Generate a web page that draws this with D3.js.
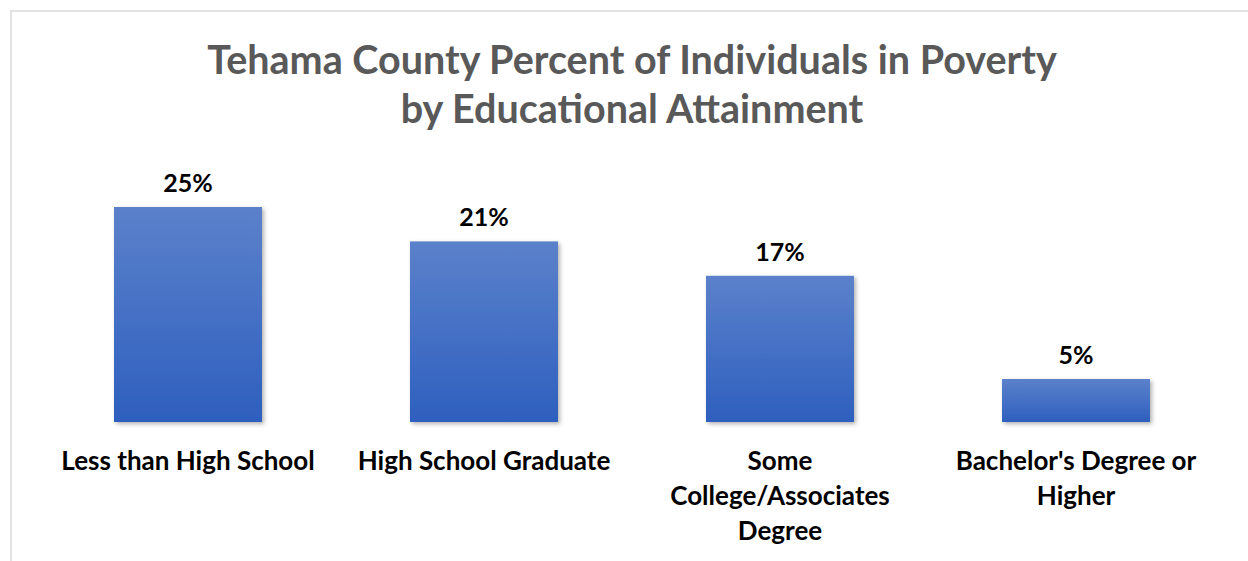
<!DOCTYPE html>
<html>
<head>
<meta charset="utf-8">
<script src="https://cdn.jsdelivr.net/npm/d3@7"></script>
<style>
  html, body { margin: 0; padding: 0; background: #fff; }
  svg { display: block; }
</style>
</head>
<body>
<svg id="chart" width="1248" height="561"></svg>
<script>
// Poverty rate by educational attainment, Tehama County
const titleLines = ["Tehama County Percent of Individuals in Poverty", "by Educational Attainment"];
const categories = ["Less than High School", "High School Graduate", "Some College/Associates Degree", "Bachelor's Degree or Higher"];
const values = [25, 21, 17, 5];
const valueLabels = ["25%", "21%", "17%", "5%"];

const W = 1248, H = 561;
const svg = d3.select("#chart");
const FONT = "Lato, 'Open Sans', sans-serif";

// frame
svg.append("rect")
  .attr("x", 11).attr("y", 11)
  .attr("width", W + 20).attr("height", H + 20)
  .attr("fill", "#fff")
  .attr("stroke", "#d9d9d9").attr("stroke-width", 1.5);

const defs = svg.append("defs");
const grad = defs.append("linearGradient")
  .attr("id", "barGrad").attr("x1", 0).attr("y1", 0).attr("x2", 0).attr("y2", 1);
grad.append("stop").attr("offset", "0%").attr("stop-color", "#5b81cb");
grad.append("stop").attr("offset", "100%").attr("stop-color", "#2e5fbe");

const shadow = defs.append("filter").attr("id", "shadow")
  .attr("x", "-10%").attr("y", "-10%").attr("width", "130%").attr("height", "130%");
shadow.append("feDropShadow")
  .attr("dx", 2).attr("dy", 2).attr("stdDeviation", 2)
  .attr("flood-color", "#000").attr("flood-opacity", 0.3);

const x = d3.scaleBand()
  .domain(categories)
  .range([40, 1224])
  .paddingInner(0.5).paddingOuter(0.25);

const baseY = 422;
const y = d3.scaleLinear().domain([0, 25]).range([baseY, 207]);

// title
svg.append("text")
  .attr("x", 632).attr("y", 74)
  .attr("text-anchor", "middle")
  .attr("font-family", FONT).attr("font-weight", 700)
  .attr("font-size", 39.5).attr("fill", "#595959")
  .selectAll("tspan").data(titleLines).join("tspan")
  .attr("x", 632).attr("dy", (d, i) => i === 0 ? 0 : 49)
  .text(d => d);

// baseline
svg.append("line")
  .attr("x1", 40).attr("x2", 1224)
  .attr("y1", baseY + 1).attr("y2", baseY + 1)
  .attr("stroke", "#d9d9d9").attr("stroke-width", 2)
  .attr("filter", "url(#shadow)");

// bars
svg.append("g").selectAll("rect")
  .data(values).join("rect")
  .attr("x", (d, i) => x(categories[i]))
  .attr("width", x.bandwidth())
  .attr("y", d => y(d))
  .attr("height", d => baseY - y(d))
  .attr("fill", "url(#barGrad)")
  .attr("filter", "url(#shadow)");

// value labels
svg.append("g").selectAll("text")
  .data(values).join("text")
  .attr("x", (d, i) => x(categories[i]) + x.bandwidth() / 2)
  .attr("y", d => y(d) - 15)
  .attr("text-anchor", "middle")
  .attr("font-family", FONT).attr("font-weight", 700)
  .attr("font-size", 25).attr("fill", "#000")
  .text((d, i) => valueLabels[i]);

// category labels, wrapped to the band step
const xAxis = d3.axisBottom(x).tickSize(0).tickPadding(0);
const axisG = svg.append("g").attr("transform", `translate(0,${baseY})`).call(xAxis);
axisG.select(".domain").remove();
axisG.selectAll("text")
  .attr("font-family", FONT).attr("font-weight", 700)
  .attr("font-size", 26).attr("fill", "#000")
  .attr("dy", 0).attr("y", 0)
  .each(function(d) {
    const t = d3.select(this);
    const words = d.split(" ");
    t.text(null);
    const maxW = 270;
    let lines = [], cur = [];
    const probe = t.append("tspan");
    words.forEach(w => {
      const test = cur.concat([w]).join(" ");
      probe.text(test);
      if (probe.node().getComputedTextLength() > maxW && cur.length) {
        lines.push(cur.join(" "));
        cur = [w];
      } else {
        cur.push(w);
      }
    });
    lines.push(cur.join(" "));
    probe.remove();
    t.selectAll("tspan").data(lines).join("tspan")
      .attr("x", 0)
      .attr("y", (l, i) => 48 + i * 35)
      .text(l => l);
  });
</script>
</body>
</html>
